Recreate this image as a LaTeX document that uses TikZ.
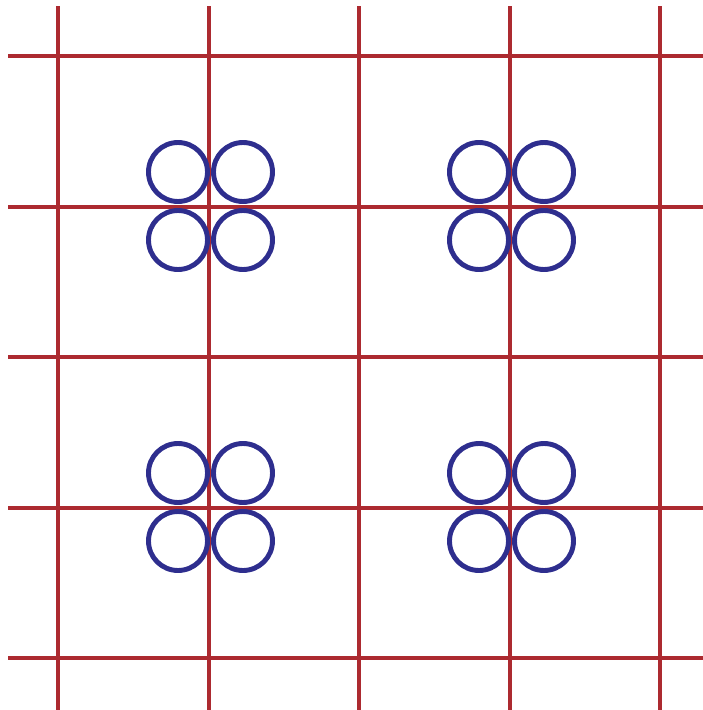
\documentclass[tikz,border=0pt]{standalone}
\usepackage{tikz}

\definecolor{gridred}{RGB}{172,42,48}
\definecolor{ringblue}{RGB}{46,46,142}

\begin{document}
\begin{tikzpicture}[
    x=0.02cm, y=-0.02cm,
    gridline/.style={draw=gridred, line width=2pt},
    ring/.style={circle, draw=ringblue, line width=2.8pt, minimum size=1.18cm, inner sep=0pt}
]
\useasboundingbox (0,0) rectangle (703,710);

% Grid lines
\foreach \gx in {58,209,359,510,660}
    \draw[gridline] (\gx,6) -- (\gx,710);
\foreach \gy in {56,207,357,508,658}
    \draw[gridline] (8,\gy) -- (703,\gy);

% Ring clusters
\foreach \cx/\cy [count=\k] in {178/172, 479/172, 178/473, 479/473} {
    \node[ring] (tl\k) at (\cx,\cy) {};
    \node[ring] (tr\k) at (\cx+65,\cy) {};
    \node[ring] (bl\k) at (\cx,\cy+68) {};
    \node[ring] (br\k) at (\cx+65,\cy+68) {};
}

\end{tikzpicture}
\end{document}
